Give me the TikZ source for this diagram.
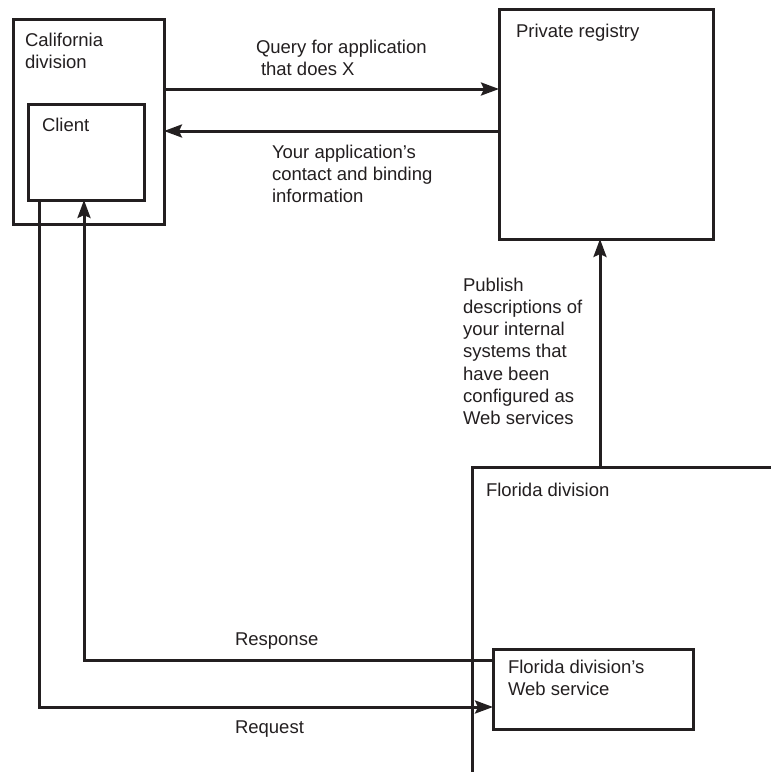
\documentclass[tikz,border=0pt]{standalone}
\usepackage{fontspec}
\setmainfont{Liberation Sans}
\usetikzlibrary{arrows.meta}
\definecolor{ink}{HTML}{231F20}
\begin{document}
\begin{tikzpicture}[x=1pt,y=-1pt,
  every node/.style={inner sep=0pt,outer sep=0pt,text=ink},
  % multi-line text: the base anchor sits on the last line's baseline
  txt/.style={anchor=base west,align=left,font=\fontsize{18.5}{22.3}\selectfont},
  box/.style={draw=ink,line width=3pt,rectangle,anchor=north west},
  wire/.style={draw=ink,line width=3pt},
  arr/.style={wire,-{Stealth[length=18pt,width=13pt,inset=3pt]}}]
\useasboundingbox[fill=white] (0,0) rectangle (771,772);

% boxes
\node[box,minimum width=151pt,minimum height=205pt] (cal) at (13,19) {};
\node[box,minimum width=116pt,minimum height=96pt] (cli) at (28,104) {};
\node[box,minimum width=214pt,minimum height=230pt] (reg) at (499,9) {};
\node[box,minimum width=200pt,minimum height=80pt] (ws) at (493,649) {};

% Florida division: open frame running off the page
\coordinate (flc) at (472,467);
\coordinate (flt) at (600,467);
\draw[wire] (771,467) -- (flc) -- (472,772);

% box captions
\node[txt] (calT) at (25,68.3) {California\\division};
\node[txt] (cliT) at (42,131) {Client};
\node[txt] (regT) at (516,37) {Private registry};
\node[txt] (flT) at (486,496) {Florida division};
\node[txt] (wsT) at (508,695.3) {Florida division’s\\Web service};

% connector rows and columns
\coordinate (qy) at (0,89);
\coordinate (ry) at (0,131);
\coordinate (rqx) at (39,0);
\coordinate (rqy) at (0,707);
\coordinate (rsx) at (84,0);
\coordinate (rsy) at (0,660);

% query and answer between California and the registry
\draw[arr] (cal.east |- qy) -- (reg.west |- qy);
\draw[arr] (reg.west |- ry) -- (cal.east |- ry);
\node[txt] (qT) at (256,75.3) {Query for application\\\hspace*{5pt}that does X};
\node[txt] (aT) at (272,202.6) {Your application’s\\contact and binding\\information};

% publishing from Florida to the registry
\draw[arr] (flt) -- (flt |- reg.south);
\node[txt] (pT) at (463,424.8) {Publish\\descriptions of\\your internal\\systems that\\have been\\configured as\\Web services};

% request and response between the client and the Web service
\draw[arr] (cli.south -| rqx) |- (ws.west |- rqy);
\draw[arr] (ws.west |- rsy) -| (cli.south -| rsx);
\node[txt] (rsT) at (235,645) {Response};
\node[txt] (rqT) at (235,733) {Request};
\end{tikzpicture}
\end{document}
